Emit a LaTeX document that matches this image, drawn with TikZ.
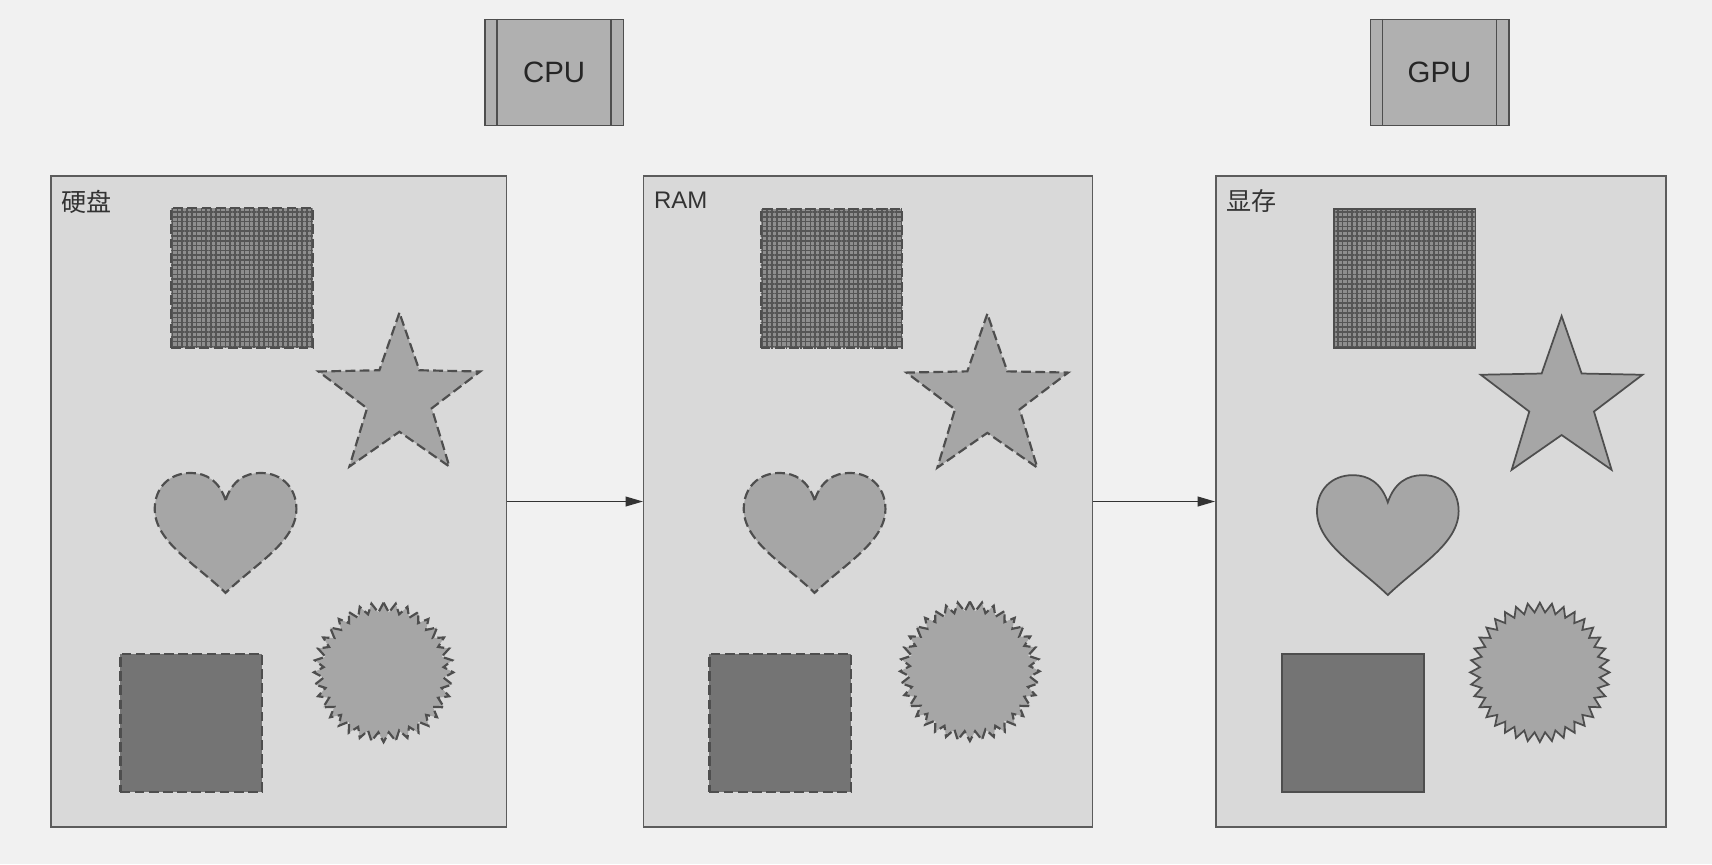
\documentclass[tikz,border=0pt]{standalone}
\usepackage{fontspec}
\newfontfamily\latfont{Liberation Sans}
\newfontfamily\cjkfont{Noto Sans CJK SC}
\usetikzlibrary{shapes.geometric,patterns.meta,arrows.meta,calc}
\definecolor{paper}{HTML}{F1F1F1}
\definecolor{panelfill}{HTML}{D9D9D9}
\definecolor{panelline}{HTML}{5C5C5C}
\definecolor{chipfill}{HTML}{B0B0B0}
\definecolor{gridbase}{HTML}{8E8E8E}
\definecolor{gridline}{HTML}{555555}
\definecolor{shapefill}{HTML}{A6A6A6}
\definecolor{darkfill}{HTML}{747474}
\definecolor{edge}{HTML}{4E4E4E}
\tikzset{
  panelbox/.style={rectangle, draw=panelline, line width=1.4pt, fill=panelfill,
    minimum width=#1, minimum height=597pt, anchor=north west, inner sep=0pt},
  panelbox/.default=418pt,
  chip/.style={rectangle, draw=edge, line width=1.5pt, fill=chipfill,
    minimum width=127pt, minimum height=97pt, inner sep=0pt,
    font=\latfont\fontsize{27}{30}\selectfont, text=black!85},
  chipline/.style={draw=edge, line width=1.5pt},
  latitle/.style={anchor=north west, inner sep=0pt, text=black!80,
    font=\latfont\fontsize{22}{26}\selectfont},
  cjtitle/.style={anchor=north west, inner sep=0pt, text=black!80,
    font=\cjkfont\fontsize{23}{26}\selectfont},
  dashedge/.style={draw=edge, line width=2pt, dash pattern=on 9pt off 4pt},
  solidedge/.style={draw=edge, line width=1.6pt},
  gridsq/.style={rectangle, inner sep=0pt, minimum width=130pt, minimum height=128pt,
    preaction={fill=gridbase},
    preaction={pattern={Lines[angle=0,distance=4.4pt,line width=1.5pt]}, pattern color=gridline},
    pattern={Lines[angle=90,distance=4.4pt,line width=1.5pt]}, pattern color=gridline},
  darksq/.style={rectangle, inner sep=0pt, minimum width=130pt, minimum height=127pt, fill=darkfill},
  starsh/.style={star, star points=5, star point ratio=2.5, minimum size=156pt,
    inner sep=0pt, fill=shapefill},
  burst/.style={star, star points=36, star point ratio=1.16, minimum size=128pt,
    inner sep=0pt, fill=shapefill},
  flow/.style={draw=black!80, line width=1.3pt, -{Triangle[length=16pt,width=9pt]}},
  pics/heartshape/.style={code={
    \path[pic actions] (0,0) .. controls (-6,-18) and (-18,-25) .. (-32,-25)
      .. controls (-52,-25) and (-65,-11) .. (-65,8)
      .. controls (-65,38) and (-28,58) .. (0,85)
      .. controls (28,58) and (65,38) .. (65,8)
      .. controls (65,-11) and (52,-25) .. (32,-25)
      .. controls (18,-25) and (6,-18) .. (0,0) -- cycle;
  }}
}
\begin{document}
\begin{tikzpicture}[x=1pt,y=-1pt]
\fill[paper] (0,0) rectangle (1571,793);
\useasboundingbox (0,0) rectangle (1571,793);

% chips
\node[chip] (cpu) at (508.5,66.5) {CPU};
\draw[chipline] ($(cpu.north west)+(12,0)$) -- ($(cpu.south west)+(12,0)$);
\draw[chipline] ($(cpu.north east)+(-12,0)$) -- ($(cpu.south east)+(-12,0)$);
\node[chip] (gpu) at (1321,66.5) {GPU};
\draw[chipline] ($(gpu.north west)+(12,0)$) -- ($(gpu.south west)+(12,0)$);
\draw[chipline] ($(gpu.north east)+(-12,0)$) -- ($(gpu.south east)+(-12,0)$);

% panels
\node[panelbox=418pt] (p1) at (46,161) {};
\node[panelbox=412pt] (p2) at (590,161) {};
\node[panelbox=413pt] (p3) at (1115,161) {};
\node[cjtitle] (t1) at (56,174) {硬盘};
\node[latitle] (t2) at (600,176) {RAM};
\node[cjtitle] (t3) at (1125,174) {显存};

% arrows
\draw[flow] (p1.east) -- (p2.west);
\draw[flow] (p2.east) -- (p3.west);

% panel 1 (dashed)
\node[gridsq, dashedge] (g1) at (222,255) {};
\node[starsh, dashedge] (s1) at (366.5,365) {};
\pic[fill=shapefill, dashedge] (h1) at (207,459) {heartshape};
\node[darksq, dashedge] (d1) at (175.5,663.5) {};
\node[burst, dashedge] (b1) at (352,617) {};

% panel 2 (dashed)
\node[gridsq, dashedge] (g2) at (763,255.5) {};
\node[starsh, dashedge] (s2) at (906,366) {};
\pic[fill=shapefill, dashedge] (h2) at (747.5,459) {heartshape};
\node[darksq, dashedge] (d2) at (716,663.5) {};
\node[burst, dashedge] (b2) at (890,616) {};

% panel 3 (solid)
\node[gridsq, solidedge] (g3) at (1289,255.5) {};
\node[starsh, solidedge] (s3) at (1433,368) {};
\pic[fill=shapefill, solidedge] (h3) at (1273.5,461) {heartshape};
\node[darksq, solidedge] (d3) at (1241.5,663.5) {};
\node[burst, solidedge] (b3) at (1413,617) {};
\end{tikzpicture}
\end{document}
